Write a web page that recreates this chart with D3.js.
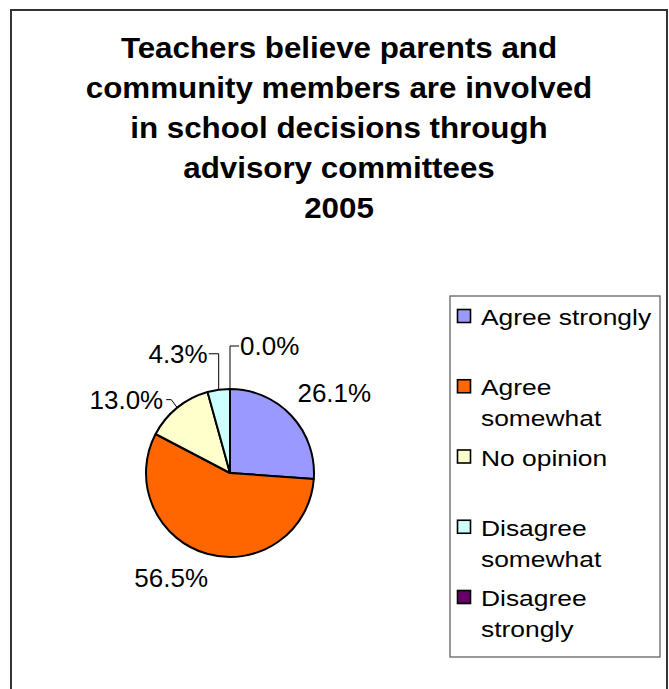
<!DOCTYPE html>
<html>
<head>
<meta charset="utf-8">
<script src="https://cdn.jsdelivr.net/npm/d3@7"></script>
<style>
  html, body { margin: 0; padding: 0; background: #fff; }
  svg { display: block; font-family: "Liberation Sans", Arial, sans-serif; }
</style>
</head>
<body>
<svg id="chart" width="669" height="689"></svg>
<script>
// Survey responses, 2005
const categories = ["Agree strongly", "Agree somewhat", "No opinion", "Disagree somewhat", "Disagree strongly"];
const values = [26.1, 56.5, 13.0, 4.3, 0.0];
const colors = ["#9999FF", "#FF6600", "#FFFFCC", "#CCFFFF", "#660066"];
const legendLines = [["Agree strongly"], ["Agree", "somewhat"], ["No opinion"], ["Disagree", "somewhat"], ["Disagree", "strongly"]];
const titleLines = [
  "Teachers believe parents and",
  "community members are involved",
  "in school decisions through",
  "advisory committees",
  "2005"
];

const svg = d3.select("#chart");

// chart frame (open at the bottom edge of the page)
svg.append("rect")
  .attr("x", 11).attr("y", 10)
  .attr("width", 656).attr("height", 700)
  .attr("fill", "#fff")
  .attr("stroke", "#333").attr("stroke-width", 2);

// title
const titleY = d3.scaleLinear().domain([0, titleLines.length - 1]).range([58, 218]);
const titleX = 339;
svg.append("g").selectAll("text")
  .data(titleLines)
  .join("text")
  .attr("transform", (d, i) => `translate(${titleX},${titleY(i)}) scale(1.08,1)`)
  .attr("text-anchor", "middle")
  .attr("font-size", 29)
  .attr("font-weight", "bold")
  .attr("fill", "#000")
  .text(d => d);

// pie
const cx = 230, cy = 473, r = 84;
const pie = d3.pie().sort(null).value(d => d)(values);
const arc = d3.arc().innerRadius(0).outerRadius(r);
const g = svg.append("g").attr("transform", `translate(${cx},${cy})`);
g.selectAll("path")
  .data(pie)
  .join("path")
  .attr("d", arc)
  .attr("fill", (d, i) => colors[i])
  .attr("stroke", "#000")
  .attr("stroke-width", 2)
  .attr("stroke-linejoin", "round");

// data labels, offset from the slice's mid-angle point on the rim
const fmt = d3.format(".1f");
const pt = ang => [Math.sin(ang) * r, -Math.cos(ang) * r];
const labelPos = [
  { a: "start", dx: 6,   dy: -14, lead: null },
  { a: "end",   dx: 1,   dy: 33,  lead: null },
  { a: "end",   dx: -14, dy: 1,   lead: "elbow" },
  { a: "end",   dx: -11, dy: -27, lead: "bracket" },
  { a: "start", dx: 10,  dy: -34, lead: "bracket" }
];
const labels = svg.append("g").attr("transform", `translate(${cx},${cy})`);
pie.forEach((d, i) => {
  const mid = (d.startAngle + d.endAngle) / 2;
  const [px, py] = pt(mid);
  const lp = labelPos[i];
  const tx = px + lp.dx, ty = py + lp.dy;
  labels.append("text")
    .attr("x", tx).attr("y", ty)
    .attr("text-anchor", lp.a)
    .attr("font-size", 26)
    .attr("fill", "#000")
    .text(fmt(d.data) + "%");
  const ly = ty - 9;
  if (lp.lead === "elbow") {
    labels.append("polyline")
      .attr("points", [[tx + 3, ly], [tx + 8, ly], [px, py]].map(p => p.join(",")).join(" "))
      .attr("fill", "none").attr("stroke", "#000").attr("stroke-width", 1);
  } else if (lp.lead === "bracket") {
    const sx = lp.a === "end" ? tx + 1 : tx - 1;
    labels.append("polyline")
      .attr("points", [[sx, ly], [px, ly], [px, py]].map(p => p.join(",")).join(" "))
      .attr("fill", "none").attr("stroke", "#000").attr("stroke-width", 1);
  }
});

// legend
svg.append("rect")
  .attr("x", 450).attr("y", 296)
  .attr("width", 210).attr("height", 361)
  .attr("fill", "#fff")
  .attr("stroke", "#555").attr("stroke-width", 1.2);

const legendY = d3.scalePoint().domain(categories).range([325, 606]);
const lineGap = 31;
const items = svg.append("g").selectAll("g")
  .data(categories)
  .join("g")
  .attr("transform", d => `translate(0,${legendY(d)})`);
items.append("rect")
  .attr("x", 457.5).attr("y", -15.5)
  .attr("width", 13).attr("height", 13)
  .attr("fill", (d, i) => colors[i])
  .attr("stroke", "#000").attr("stroke-width", 1.6);
items.each(function(d, i) {
  d3.select(this).selectAll("text")
    .data(legendLines[i])
    .join("text")
    .attr("transform", (t, j) => `translate(481,${j * lineGap}) scale(1.2,1)`)
    .attr("font-size", 22)
    .attr("fill", "#000")
    .text(t => t);
});
</script>
</body>
</html>
